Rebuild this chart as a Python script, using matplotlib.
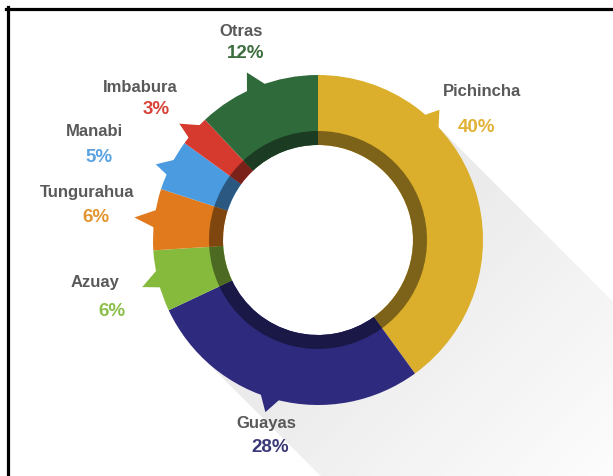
import numpy as np
import matplotlib
matplotlib.use("Agg")
import matplotlib.pyplot as plt
from matplotlib.patches import Polygon, Circle
from matplotlib.lines import Line2D
from matplotlib.colors import to_rgb

# ---- data ----
provinces = ["Pichincha", "Guayas", "Azuay", "Tungurahua", "Manabi", "Imbabura", "Otras"]
shares = [40, 28, 6, 6, 5, 3, 12]
pct_labels = ["40%", "28%", "6%", "6%", "5%", "3%", "12%"]
colors = ["#DBAE2B", "#2E2A7D", "#86BA3C", "#E07A1C", "#4A9BE0", "#D63A2E", "#2F6A3B"]
pct_colors = ["#E2B236", "#3B3A78", "#8CC04C", "#E39530", "#5AA3E2", "#D9443A", "#3C6E40"]

# ---- layout (pixel space) ----
W, H = 613, 477
fig = plt.figure(figsize=(W / 100, H / 100), dpi=100)
ax = fig.add_axes([0, 0, 1, 1])
cx, cy = 318, H - 241
R_out, R_band, R_hole = 165, 109, 95

# long shadow toward lower right
d = np.array([1.0, -1.0]) / np.sqrt(2)
n = np.array([1.0, 1.0]) / np.sqrt(2)
c = np.array([cx, cy])
P1 = c + R_out * n
P2 = c - R_out * n
far = 1200
shadow_poly = Polygon([P1, P1 + far * d, P2 + far * d, P2], closed=True,
                      facecolor="none", edgecolor="none")
ax.add_patch(shadow_poly)
xx, yy = np.meshgrid(np.arange(0, W, 1.0), np.arange(0, H, 1.0))
t = (xx - cx) * d[0] + (yy - cy) * d[1]
alpha = np.clip(0.13 * (1 - (t - 80) / 340), 0, 0.13)
img = np.zeros((H, W, 4))
img[..., 0] = 0.40
img[..., 1] = 0.40
img[..., 2] = 0.43
img[..., 3] = alpha
im = ax.imshow(img, extent=(0, W, 0, H), origin="lower", zorder=1, interpolation="bilinear")
im.set_clip_path(shadow_poly)

# hole white
ax.add_patch(Circle((cx, cy), R_hole, facecolor="white", edgecolor="none", zorder=1.5))

# main ring
wedges, _ = ax.pie(shares, colors=colors, startangle=90, counterclock=False,
                   radius=R_out, center=(cx, cy),
                   wedgeprops=dict(width=R_out - R_hole, edgecolor="none"))
for w in wedges:
    w.set_zorder(2)

# darker inner band
dark = [tuple(np.array(to_rgb(col)) * 0.57) for col in colors]
wedges2, _ = ax.pie(shares, colors=dark, startangle=90, counterclock=False,
                    radius=R_band, center=(cx, cy),
                    wedgeprops=dict(width=R_band - R_hole, edgecolor="none"))
for w in wedges2:
    w.set_zorder(3)

# speech-bubble tails: (segment index, base angle 1, base angle 2, tip angle, tip radius)
tails = [(0, 42, 50, 47, 178), (6, 108, 116, 113, 182), (5, 135, 142, 140, 181),
         (4, 150, 157, 155, 179), (3, 169, 176, 173, 185), (2, 190, 197, 195, 182),
         (1, 249, 257, 253, 180)]
for idx, a1, a2, at, rt in tails:
    pts = []
    for a in (a1, a2):
        r = np.radians(a)
        pts.append((cx + (R_out - 3) * np.cos(r), cy + (R_out - 3) * np.sin(r)))
    r = np.radians(at)
    pts.append((cx + rt * np.cos(r), cy + rt * np.sin(r)))
    ax.add_patch(Polygon(pts, closed=True, facecolor=colors[idx], edgecolor="none", zorder=2))

# labels: (name pos, pct pos) in pixel coords (y from top)
name_pos = [(482, 92), (266, 424), (95, 282), (87, 193), (94, 132), (140, 87), (241, 32)]
pct_pos = [(476, 127), (270, 448), (112, 311), (96, 218), (99, 157), (156, 110), (246, 54)]
fam = ["Liberation Sans Narrow", "Liberation Sans", "DejaVu Sans"]
for i in range(len(provinces)):
    x, y = name_pos[i]
    ax.text(x, H - y, provinces[i], ha="center", va="center", fontsize=12,
            fontweight="bold", color="#595959", family=fam, zorder=5)
    x, y = pct_pos[i]
    ax.text(x, H - y, pct_labels[i], ha="center", va="center", fontsize=13.5,
            fontweight="bold", color=pct_colors[i], family=fam, zorder=5)

ax.set_xlim(0, W)
ax.set_ylim(0, H)
ax.set_aspect("equal")
ax.axis("off")

# frame lines (top and left)
fig.add_artist(Line2D([6 / W, 1], [1 - 9.5 / H, 1 - 9.5 / H], color="black", lw=2.3,
                      transform=fig.transFigure))
fig.add_artist(Line2D([7.5 / W, 7.5 / W], [0, 1 - 8 / H], color="black", lw=2.3,
                      transform=fig.transFigure))

fig.savefig("out.png", dpi=100, facecolor="white")
